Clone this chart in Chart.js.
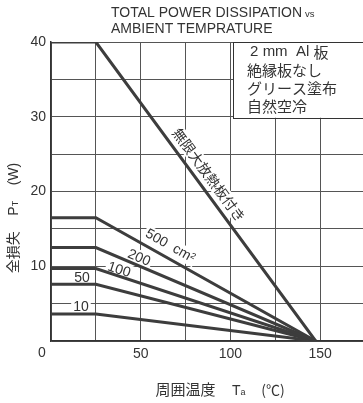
<!DOCTYPE html>
<html><head><meta charset="utf-8">
<script src="https://cdn.jsdelivr.net/npm/chart.js@4/dist/chart.umd.min.js"></script>
<style>
html,body{margin:0;padding:0;background:#fff;overflow:hidden;width:363px;height:403px}
#wrap{width:365px;height:403px}
canvas{display:block}
</style></head><body>
<div id="wrap"><canvas id="c" width="365" height="403"></canvas></div>
<script>
// ---- data ----
const ambientTemp = [0, 25, 147.5];          // °C : flat until 25, then derate to zero
const pInfinite = [40, 40, 0];               // 無限大放熱板付き
const p500 = [16.5, 16.5, 0];                // 500 cm²
const p200 = [12.5, 12.5, 0];                // 200 cm²
const p100 = [9.7, 9.7, 0];                  // 100 cm²
const p50 = [7.6, 7.6, 0];                   // 50 cm²
const p10 = [3.6, 3.6, 0];                   // 10 cm²
const seriesLabels = ['無限大放熱板付き', '500  cm²', '200', '100', '50', '10'];
const labelAtX = [88, 66.4, 49, 37.9, 17.3, 16.7];
const labelAtY = [22.2, 12.7, 11.1, 9.5, 8.4, 4.55];
const labelAlongLine = [true, true, true, true, false, false];
const xTickLabels = [50, 100, 150];
const yTickLabels = [10, 20, 30, 40];
const titleLines = ['TOTAL POWER DISSIPATION', 'AMBIENT TEMPRATURE'];
const conditionLines = ['2 mm  Al 板', '絶縁板なし', 'グリース塗布', '自然空冷'];

const INK = '#333';
const LINE = '#3d3d3d';
const GRID = '#555';
const LATIN = "'Liberation Sans', Arial, sans-serif";
const CJK = "'Noto Sans CJK JP', sans-serif";

const seriesValues = [pInfinite, p500, p200, p100, p50, p10];
const datasets = seriesValues.map((vals, i) => ({
  label: seriesLabels[i],
  data: ambientTemp.map((t, k) => ({x: t, y: vals[k]})),
  borderColor: LINE,
  borderWidth: 3,
  pointRadius: 0,
  tension: 0,
  fill: false,
  showLine: true
}));

function drawRuns(ctx, runs, x, y, center) {
  let total = 0;
  runs.forEach(r => { ctx.font = r.f; r.w = ctx.measureText(r.t).width; total += r.w; });
  let cx = center ? x - total / 2 : x;
  ctx.textAlign = 'left';
  runs.forEach(r => { ctx.font = r.f; ctx.fillText(r.t, cx, y + (r.dy || 0)); cx += r.w; });
}

// split a string into latin / CJK runs so each gets its proper font
function mixedRuns(text, size) {
  const runs = [];
  for (const ch of text) {
    const cjk = ch.charCodeAt(0) > 0x2000;
    const f = `${size}px ${cjk ? CJK : LATIN}`;
    if (runs.length && runs[runs.length - 1].f === f) runs[runs.length - 1].t += ch;
    else runs.push({t: ch, f});
  }
  return runs;
}

function labelGeom(chart, i) {
  const xs = chart.scales.x, ys = chart.scales.y;
  const d = chart.data.datasets[i].data;
  const cx = xs.getPixelForValue(labelAtX[i]);
  const cy = ys.getPixelForValue(labelAtY[i]);
  let ang = 0;
  if (labelAlongLine[i]) {
    const a = d[1], b = d[2];
    ang = Math.atan2(ys.getPixelForValue(b.y) - ys.getPixelForValue(a.y),
                     xs.getPixelForValue(b.x) - xs.getPixelForValue(a.x));
  }
  const font = i === 0 ? `14px ${CJK}` : `14px ${LATIN}`;
  return {cx, cy, ang, font};
}

const decor = {
  id: 'decor',
  beforeDatasetsDraw(chart) {
    const ctx = chart.ctx;
    ctx.save();
    for (let i = 0; i < seriesLabels.length; i++) {
      const g = labelGeom(chart, i);
      ctx.save();
      ctx.translate(g.cx, g.cy);
      ctx.rotate(g.ang);
      ctx.font = g.font;
      const w = ctx.measureText(seriesLabels[i]).width;
      ctx.fillStyle = '#fff';
      ctx.fillRect(-w / 2 - 2, -8, w + 4, 16);
      ctx.restore();
    }
    ctx.restore();
  },
  afterDatasetsDraw(chart) {
    const ctx = chart.ctx;
    ctx.save();
    ctx.fillStyle = INK;
    for (let i = 0; i < seriesLabels.length; i++) {
      const g = labelGeom(chart, i);
      ctx.save();
      ctx.translate(g.cx, g.cy);
      ctx.rotate(g.ang);
      ctx.font = g.font;
      ctx.textAlign = 'center';
      ctx.textBaseline = 'middle';
      ctx.fillText(seriesLabels[i], 0, 0);
      ctx.restore();
    }
    ctx.restore();
  },
  afterDraw(chart) {
    const ctx = chart.ctx;
    const area = chart.chartArea;
    ctx.save();
    ctx.fillStyle = INK;
    // title
    ctx.textAlign = 'left';
    ctx.textBaseline = 'alphabetic';
    ctx.font = `14px ${LATIN}`;
    ctx.fillText(titleLines[0], 111, 17);
    const tw = ctx.measureText(titleLines[0] + ' ').width;
    ctx.font = `9.5px ${LATIN}`;
    ctx.fillText('vs', 111 + tw - 1, 17);
    ctx.font = `14px ${LATIN}`;
    ctx.fillText(titleLines[1], 111, 33);

    // conditions box
    const bx = chart.scales.x.getPixelForValue(101.5);
    const bBottom = chart.scales.y.getPixelForValue(30) + 1;
    ctx.fillStyle = '#fff';
    ctx.fillRect(bx, area.top, chart.width - bx + 5, bBottom - area.top);
    ctx.strokeStyle = '#333';
    ctx.lineWidth = 1;
    ctx.strokeRect(Math.round(bx) + 0.5, area.top + 0.5, chart.width, Math.round(bBottom - area.top));
    ctx.fillStyle = INK;
    ctx.textBaseline = 'middle';
    conditionLines.forEach((t, k) => {
      drawRuns(ctx, mixedRuns(t, 15), bx + (k === 0 ? 17 : 14), area.top + 10 + k * 18, false);
    });

    // lone zero at the origin corner
    ctx.font = `14px ${LATIN}`;
    ctx.textAlign = 'center';
    ctx.textBaseline = 'middle';
    ctx.fillText('0', area.left - 9, area.bottom + 12);

    // y axis title
    ctx.textBaseline = 'alphabetic';
    ctx.save();
    ctx.translate(18, 218);
    ctx.rotate(-Math.PI / 2);
    drawRuns(ctx, [
      {t: '全損失', f: `14px ${CJK}`},
      {t: '    ', f: `14px ${LATIN}`},
      {t: 'P', f: `14px ${LATIN}`},
      {t: 'T', f: `9px ${LATIN}`},
      {t: '    (W)', f: `14px ${LATIN}`}
    ], 0, 0, true);
    ctx.restore();

    // x axis title
    drawRuns(ctx, [
      {t: '周囲温度', f: `15px ${CJK}`},
      {t: '    ', f: `15px ${LATIN}`},
      {t: 'T', f: `14px ${LATIN}`},
      {t: 'a', f: `9px ${LATIN}`},
      {t: '    ', f: `14px ${LATIN}`},
      {t: '(℃)', f: `14px ${CJK}`}
    ], 220, 395, true);
    ctx.restore();
  }
};

new Chart(document.getElementById('c'), {
  type: 'scatter',
  data: {datasets},
  options: {
    responsive: false,
    animation: false,
    devicePixelRatio: 1,
    layout: {padding: {top: 42, left: 0, right: 0, bottom: 0}},
    plugins: {legend: {display: false}, title: {display: false}, tooltip: {enabled: false}},
    scales: {
      x: {
        type: 'linear', min: 0, max: 175,
        ticks: {
          stepSize: 25, padding: 5, color: INK, maxRotation: 0, autoSkip: false,
          font: {family: LATIN, size: 14},
          callback: v => xTickLabels.includes(v) ? String(v) : ''
        },
        grid: {color: GRID, lineWidth: 1, drawTicks: false},
        border: {display: true, color: '#333', width: 1.5},
        afterFit: s => { s.height = 62; s.paddingLeft = 0; s.paddingRight = 0; }
      },
      y: {
        type: 'linear', min: 0, max: 40,
        ticks: {
          stepSize: 5, padding: 5, color: INK, autoSkip: false,
          font: {family: LATIN, size: 14},
          callback: v => yTickLabels.includes(v) ? String(v) : ''
        },
        grid: {color: GRID, lineWidth: 1, drawTicks: false},
        border: {display: true, color: '#333', width: 1.5},
        afterFit: s => { s.width = 51; }
      }
    }
  },
  plugins: [decor]
});
</script>
</body></html>
